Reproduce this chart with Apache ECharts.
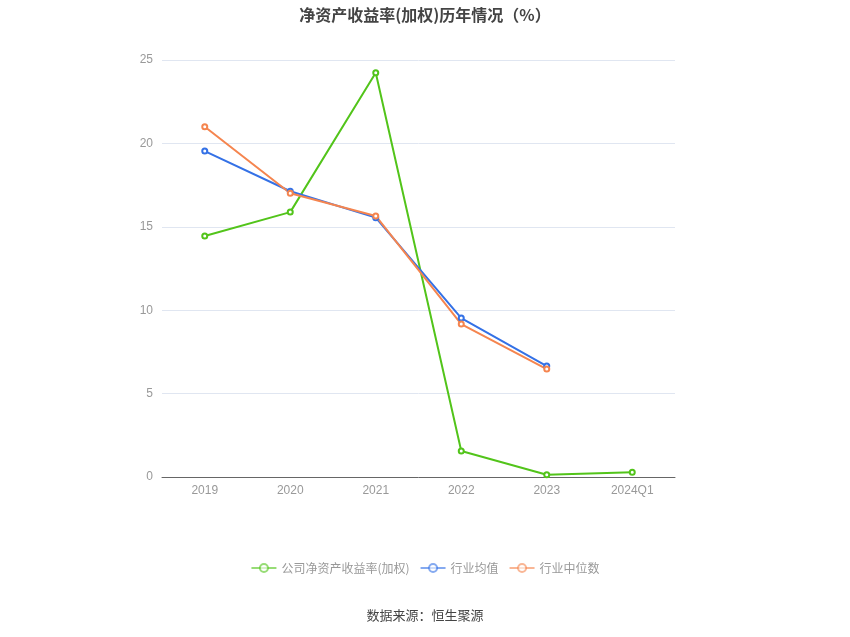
<!DOCTYPE html>
<html>
<head>
<meta charset="utf-8">
<script src="https://cdn.jsdelivr.net/npm/echarts@6/dist/echarts.min.js"></script>
<style>
html,body{margin:0;padding:0;background:#fff;}
#chart{width:850px;height:637px;}
</style>
</head>
<body>
<div id="chart"></div>
<script>
// 年份
var years = ['2019', '2020', '2021', '2022', '2023', '2024Q1'];
// 公司净资产收益率(加权)
var companyRoe = [14.45, 15.88, 24.23, 1.56, 0.14, 0.29];
// 行业均值
var industryAvg = [19.54, 17.13, 15.55, 9.53, 6.65, null];
// 行业中位数
var industryMedian = [21.0, 17.01, 15.65, 9.17, 6.47, null];
// y轴刻度
var yTicks = [0, 5, 10, 15, 20, 25];

var chart = echarts.init(document.getElementById('chart'));

function lineSeries(name, data, color) {
	return {
		name: name,
		type: 'line',
		data: data,
		symbol: 'emptyCircle',
		symbolSize: 5,
		showSymbol: true,
		connectNulls: false,
		lineStyle: {width: 2, color: color},
		itemStyle: {color: color, borderWidth: 2}
	};
}

chart.setOption({
	animation: false,
	title: {
		text: '净资产收益率(加权)历年情况（%）',
		left: 'center',
		top: 2,
		textStyle: {fontSize: 16, fontWeight: 'bold', color: '#444', fontFamily: 'Noto Sans CJK SC'}
	},
	legend: {
		bottom: 58,
		left: 'center',
		itemWidth: 25,
		itemHeight: 10,
		itemGap: 10,
		textStyle: {color: '#999', fontSize: 12, fontFamily: 'Noto Sans CJK SC'},
		lineStyle: {opacity: 0.6},
		itemStyle: {opacity: 0.6},
		data: ['公司净资产收益率(加权)', '行业均值', '行业中位数']
	},
	graphic: [{
		type: 'text',
		left: 'center',
		top: 609,
		style: {text: '数据来源：恒生聚源', fill: '#444', fontSize: 13, fontFamily: 'Noto Sans CJK SC'}
	}],
	grid: {left: 162, right: 175, top: 60, bottom: 160},
	xAxis: {
		type: 'category',
		data: years,
		boundaryGap: true,
		axisLine: {lineStyle: {color: '#666'}},
		axisTick: {alignWithLabel: true, length: 4, lineStyle: {color: '#666'}},
		axisLabel: {color: '#999', fontSize: 12, margin: 8}
	},
	yAxis: {
		type: 'value',
		min: yTicks[0],
		max: yTicks[yTicks.length - 1],
		interval: 5,
		axisLine: {show: false},
		axisTick: {show: false},
		axisLabel: {color: '#999', fontSize: 12, margin: 9},
		splitLine: {lineStyle: {color: '#e0e6f1'}}
	},
	series: [
		lineSeries('公司净资产收益率(加权)', companyRoe, '#52c41a'),
		lineSeries('行业均值', industryAvg, '#3471e6'),
		lineSeries('行业中位数', industryMedian, '#f5854f')
	]
});
</script>
</body>
</html>
